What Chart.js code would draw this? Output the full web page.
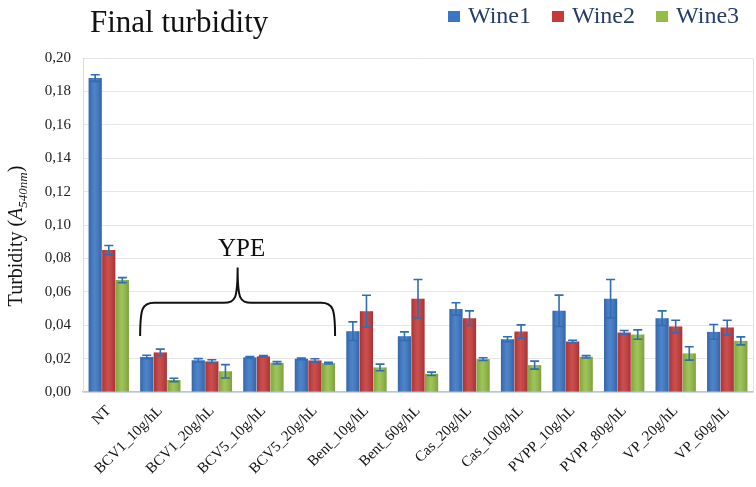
<!DOCTYPE html>
<html>
<head>
<meta charset="utf-8">
<script src="https://cdn.jsdelivr.net/npm/chart.js@4.4.1/dist/chart.umd.min.js"></script>
<style>
	html, body { margin: 0; padding: 0; background: #fff; }
	#wrap { width: 756px; height: 487px; position: relative; }
</style>
</head>
<body>
<div id="wrap"><canvas id="turbidityChart"></canvas></div>
<script>
// 카테고리 / 시리즈 값
const categories = ['NT', 'BCV1_10g/hL', 'BCV1_20g/hL', 'BCV5_10g/hL', 'BCV5_20g/hL', 'Bent_10g/hL', 'Bent_60g/hL',
	'Cas_20g/hL', 'Cas_100g/hL', 'PVPP_10g/hL', 'PVPP_80g/hL', 'VP_20g/hL', 'VP_60g/hL'];
const seriesNames = ['Wine1', 'Wine2', 'Wine3'];
const wine1 = [0.188, 0.021, 0.019, 0.0207, 0.0199, 0.0364, 0.0334, 0.0497, 0.0316, 0.0486, 0.0559, 0.0442, 0.036];
const wine1Err = [0.002, 0.001, 0.001, 0.0005, 0.0005, 0.0056, 0.0026, 0.0037, 0.0015, 0.0094, 0.0115, 0.0044, 0.0044];
const wine2 = [0.085, 0.0237, 0.0183, 0.0213, 0.0189, 0.0484, 0.0559, 0.0442, 0.0362, 0.0302, 0.0356, 0.0392, 0.0386];
const wine2Err = [0.0027, 0.002, 0.001, 0.0005, 0.001, 0.0095, 0.0115, 0.0044, 0.004, 0.0008, 0.0012, 0.0038, 0.0044];
const wine3 = [0.067, 0.0072, 0.0124, 0.0175, 0.0173, 0.0147, 0.0109, 0.0197, 0.0161, 0.0211, 0.0344, 0.0231, 0.0306];
const wine3Err = [0.0015, 0.001, 0.004, 0.0007, 0.0005, 0.002, 0.001, 0.0008, 0.0024, 0.0007, 0.0028, 0.004, 0.0024];
const yTicks = [0, 0.02, 0.04, 0.06, 0.08, 0.10, 0.12, 0.14, 0.16, 0.18, 0.20];
const yMax = 0.20;

const SERIF = '"Liberation Serif", "Times New Roman", serif';
const colors = ['#3b76c4', '#c63a3a', '#94bd46'];
const errColor = '#2f6db5';

// 막대 그라데이션 + 오차 막대
const barDecor = {
	id: 'barDecor',
	afterDatasetsDraw(chart) {
		const ctx = chart.ctx;
		const yScale = chart.scales.y;
		chart.data.datasets.forEach((ds, di) => {
			const meta = chart.getDatasetMeta(di);
			meta.data.forEach(bar => {
				const p = bar.getProps(['x', 'y', 'base', 'width'], true);
				const l = p.x - p.width / 2;
				const g = ctx.createLinearGradient(l, 0, l + p.width, 0);
				g.addColorStop(0, 'rgba(0,0,0,0.14)');
				g.addColorStop(0.45, 'rgba(255,255,255,0.10)');
				g.addColorStop(1, 'rgba(0,0,0,0.16)');
				ctx.save();
				ctx.fillStyle = g;
				ctx.fillRect(l, p.y, p.width, p.base - p.y);
				ctx.restore();
			});
		});
		// 오차 막대
		chart.data.datasets.forEach((ds, di) => {
			const meta = chart.getDatasetMeta(di);
			meta.data.forEach((bar, i) => {
				const v = ds.data[i], e = ds.errors[i];
				const top = yScale.getPixelForValue(v + e);
				const bot = yScale.getPixelForValue(v - e);
				const x = bar.x;
				ctx.save();
				ctx.strokeStyle = errColor;
				ctx.lineWidth = 1.6;
				ctx.beginPath();
				ctx.moveTo(x, top); ctx.lineTo(x, bot);
				ctx.moveTo(x - 4.5, top); ctx.lineTo(x + 4.5, top);
				ctx.moveTo(x - 4.5, bot); ctx.lineTo(x + 4.5, bot);
				ctx.stroke();
				ctx.restore();
			});
		});
	}
};

// 제목, 범례, Y축 제목, YPE 괄호
const annotations = {
	id: 'annotations',
	afterDraw(chart) {
		const ctx = chart.ctx;
		const area = chart.chartArea;
		const y = chart.scales.y;
		ctx.save();

		// 오른쪽 테두리
		ctx.strokeStyle = '#e2e2e2';
		ctx.lineWidth = 1;
		ctx.beginPath();
		ctx.moveTo(area.right + 0.5, area.top);
		ctx.lineTo(area.right + 0.5, area.bottom);
		ctx.stroke();

		// 제목
		ctx.fillStyle = '#111';
		ctx.font = '31px ' + SERIF;
		ctx.textAlign = 'left';
		ctx.textBaseline = 'alphabetic';
		ctx.fillText('Final turbidity', 90, 32);

		// 범례
		ctx.font = '24px ' + SERIF;
		let lx = 448;
		chart.data.datasets.forEach((ds, i) => {
			ctx.fillStyle = colors[i];
			ctx.fillRect(lx, 11, 12, 11);
			ctx.fillStyle = '#243e66';
			ctx.fillText(ds.label, lx + 20, 23);
			lx += 20 + ctx.measureText(ds.label).width + 21;
		});

		// Y축 제목 (A540nm 아래첨자)
		ctx.translate(22, 236);
		ctx.rotate(-Math.PI / 2);
		const parts = [
			{ t: 'Turbidity (', f: '20px ' + SERIF, dy: 0 },
			{ t: 'A', f: 'italic 20px ' + SERIF, dy: 0 },
			{ t: '540nm', f: 'italic 13px ' + SERIF, dy: 5 },
			{ t: ')', f: '20px ' + SERIF, dy: 0 }
		];
		let total = 0;
		parts.forEach(p => { ctx.font = p.f; p.w = ctx.measureText(p.t).width; total += p.w; });
		let px = -total / 2;
		ctx.fillStyle = '#111';
		parts.forEach(p => { ctx.font = p.f; ctx.fillText(p.t, px, p.dy); px += p.w; });
		ctx.setTransform(1, 0, 0, 1, 0, 0);

		// YPE 괄호
		const m0 = chart.getDatasetMeta(0), m2 = chart.getDatasetMeta(2);
		const bl = m0.data[1].x - m0.data[1].width / 2;
		const br = m2.data[4].x + m2.data[4].width / 2;
		const bm = (bl + br) / 2;
		const yb = y.getPixelForValue(0.0335);
		const yh = y.getPixelForValue(0.0535);
		const yp = y.getPixelForValue(0.0745);
		ctx.strokeStyle = '#111';
		ctx.lineWidth = 2;
		ctx.beginPath();
		ctx.moveTo(bl, yb);
		ctx.bezierCurveTo(bl, yh + 6, bl + 2, yh, bl + 14, yh);
		ctx.lineTo(bm - 14, yh);
		ctx.bezierCurveTo(bm - 2, yh, bm, yh - 4, bm, yp);
		ctx.bezierCurveTo(bm, yh - 4, bm + 2, yh, bm + 14, yh);
		ctx.lineTo(br - 14, yh);
		ctx.bezierCurveTo(br - 2, yh, br, yh + 6, br, yb);
		ctx.stroke();
		ctx.fillStyle = '#111';
		ctx.font = '25px ' + SERIF;
		ctx.textAlign = 'center';
		ctx.fillText('YPE', bm + 4, y.getPixelForValue(0.0813));
		ctx.restore();
	}
};

const ctx = document.getElementById('turbidityChart').getContext('2d');
new Chart(ctx, {
	type: 'bar',
	data: {
		labels: categories,
		datasets: [
			{ label: seriesNames[0], data: wine1, errors: wine1Err, backgroundColor: colors[0] },
			{ label: seriesNames[1], data: wine2, errors: wine2Err, backgroundColor: colors[1] },
			{ label: seriesNames[2], data: wine3, errors: wine3Err, backgroundColor: colors[2] }
		]
	},
	options: {
		responsive: true,
		maintainAspectRatio: false,
		animation: false,
		layout: { padding: { top: 58, right: 3, left: 0, bottom: 0 } },
		datasets: { bar: { categoryPercentage: 0.79, barPercentage: 0.97, borderWidth: 0 } },
		plugins: {
			legend: { display: false },
			title: { display: false },
			tooltip: { enabled: false }
		},
		scales: {
			x: {
				grid: { display: false },
				border: { color: '#b9c6d6', width: 1.5 },
				ticks: {
					color: '#111',
					font: { family: SERIF, size: 15 },
					maxRotation: 45,
					minRotation: 45,
					padding: 2,
					autoSkip: false
				},
				afterFit(scale) { scale.height = 95; }
			},
			y: {
				min: 0,
				max: yMax,
				afterBuildTicks(scale) { scale.ticks = yTicks.map(v => ({ value: v })); },
				grid: { color: '#e6e6e6', drawTicks: false },
				border: { color: '#d6dde6' },
				ticks: {
					color: '#222',
					font: { family: SERIF, size: 15 },
					padding: 12,
					callback: v => v.toFixed(2).replace('.', ',')
				},
				afterFit(scale) { scale.width = 83; }
			}
		}
	},
	plugins: [barDecor, annotations]
});
</script>
</body>
</html>
